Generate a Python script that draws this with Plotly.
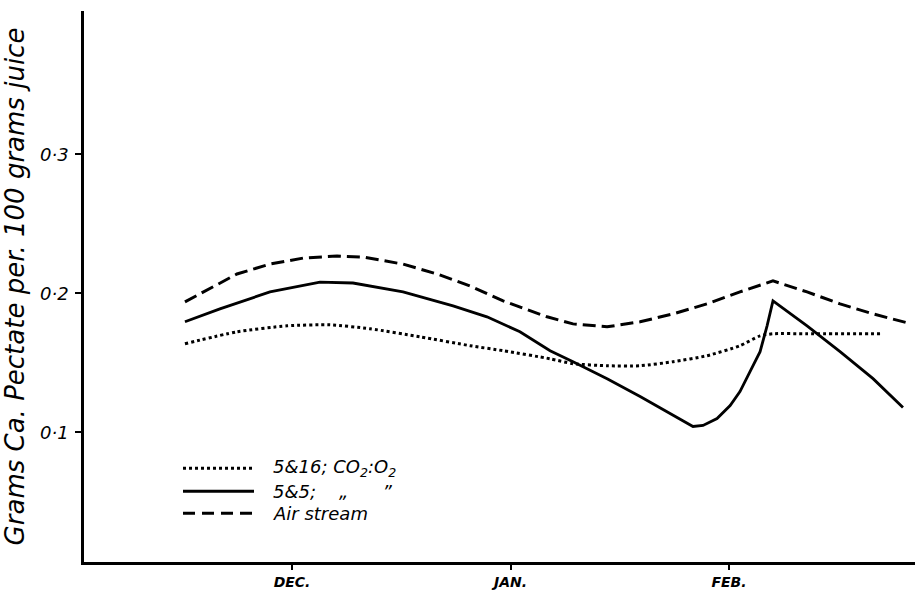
import plotly.graph_objects as go

# ---- data ----
months = ["DEC.", "JAN.", "FEB."]
month_pos = [1, 2, 3]
y_ticks = [0.1, 0.2, 0.3]
y_ticktext = ["0·1", "0·2", "0·3"]

air_x = [0.510, 0.593, 0.748, 0.899, 1.050, 1.206, 1.325, 1.508, 1.664, 1.815, 1.966,
         2.167, 2.286, 2.442, 2.593, 2.744, 2.899, 3.050, 3.201, 3.357, 3.508, 3.659, 3.815]
air_y = [0.1939, 0.2011, 0.2140, 0.2211, 0.2254, 0.2269, 0.2262, 0.2211, 0.2140, 0.2054, 0.1946,
         0.1832, 0.1781, 0.1760, 0.1796, 0.1853, 0.1925, 0.2011, 0.2090, 0.2011, 0.1925, 0.1853, 0.1789]

s55_x = [0.510, 0.670, 0.899, 1.128, 1.279, 1.508, 1.737, 1.892, 2.043, 2.181, 2.286, 2.442,
         2.593, 2.744, 2.789, 2.835, 2.881, 2.945, 3.005, 3.050, 3.096, 3.142, 3.174, 3.201,
         3.357, 3.508, 3.659, 3.796]
s55_y = [0.1796, 0.1889, 0.2011, 0.2082, 0.2075, 0.2011, 0.1910, 0.1832, 0.1724, 0.1588, 0.1509, 0.1387,
         0.1258, 0.1122, 0.1079, 0.1043, 0.1050, 0.1100, 0.1194, 0.1294, 0.1437, 0.1581, 0.1767, 0.1946,
         0.1767, 0.1581, 0.1387, 0.1179]

s516_x = [0.510, 0.748, 0.977, 1.174, 1.357, 1.586, 1.815, 1.966, 2.181, 2.286, 2.442, 2.593,
          2.744, 2.899, 3.050, 3.142, 3.201, 3.357, 3.705]
s516_y = [0.1638, 0.1724, 0.1767, 0.1774, 0.1746, 0.1688, 0.1624, 0.1588, 0.1530, 0.1495, 0.1480, 0.1480,
          0.1509, 0.1552, 0.1624, 0.1695, 0.1710, 0.1710, 0.1710]

legend_labels = ["5&amp;16; CO<sub>2</sub>:O<sub>2</sub>", "5&amp;5;    \u201e      \u201d", "Air stream"]
legend_dash = ["3px,3px", "solid", "12px,7px"]

FONT = "DejaVu Sans"

fig = go.Figure()
fig.add_trace(go.Scatter(x=s516_x, y=s516_y, mode="lines",
                         line=dict(color="black", width=3, dash="3px,3px", shape="spline", smoothing=0.6),
                         showlegend=False))
fig.add_trace(go.Scatter(x=s55_x, y=s55_y, mode="lines",
                         line=dict(color="black", width=2.8, shape="linear"), showlegend=False))
fig.add_trace(go.Scatter(x=air_x, y=air_y, mode="lines",
                         line=dict(color="black", width=3, dash="13px,6px", shape="linear"), showlegend=False))

# hand-drawn legend (layout decoration)
W, H = 915, 590
L, R, T, B = 84, 0, 11, 26
pw, ph = W - L - R, H - T - B
rows_px = [470, 493, 515]
shapes = []
annotations = []
for lab, dash, ypx in zip(legend_labels, legend_dash, rows_px):
    yp = 1 - (ypx - T) / ph
    x0 = (183 - L) / pw
    x1 = (254 - L) / pw
    shapes.append(dict(type="line", xref="paper", yref="paper", x0=x0, x1=x1, y0=yp, y1=yp,
                       line=dict(color="black", width=3, dash=dash)))
    annotations.append(dict(xref="paper", yref="paper", x=(271 - L) / pw, y=yp, text=lab,
                            showarrow=False, xanchor="left", yanchor="middle",
                            font=dict(family=FONT, size=18, color="black", style="italic")))

fig.update_layout(
    width=W, height=H,
    margin=dict(l=L, r=R, t=T, b=B),
    paper_bgcolor="white", plot_bgcolor="white",
    shapes=shapes, annotations=annotations,
    xaxis=dict(range=[0.048, 3.851], tickvals=month_pos, ticktext=months,
               showgrid=False, zeroline=False, showline=True, linecolor="black", linewidth=2.5,
               ticks="outside", ticklen=5, tickwidth=2, tickcolor="black",
               tickfont=dict(family=FONT, size=14, color="black", weight="bold", style="italic")),
    yaxis=dict(range=[0.0068, 0.4032], tickvals=y_ticks, ticktext=y_ticktext,
               showgrid=False, zeroline=False, showline=True, linecolor="black", linewidth=2.5,
               ticks="outside", ticklen=6, tickwidth=2, tickcolor="black", ticklabelstandoff=3,
               tickfont=dict(family=FONT, size=18, color="black", style="italic"),
               title=dict(text="Grams Ca. Pectate per. 100 grams juice", standoff=8,
                          font=dict(family=FONT, size=26, color="black", style="italic"))),
)

fig.write_html("out.html")
